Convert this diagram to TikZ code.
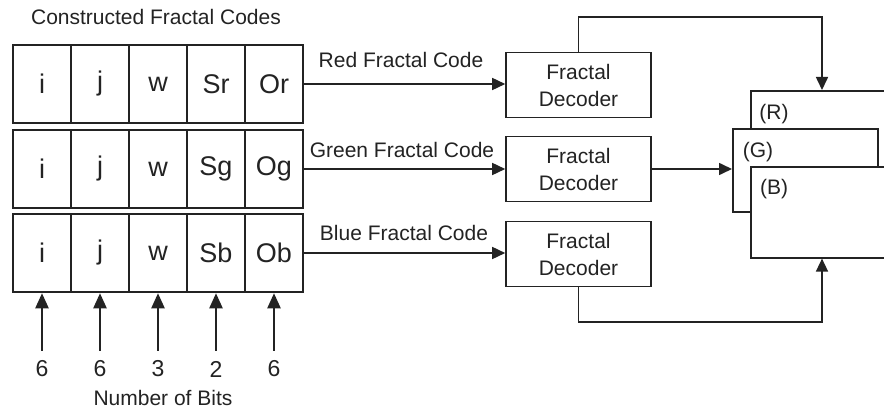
\documentclass[tikz,border=0pt]{standalone}
\usepackage{fontspec}
\setmainfont{Liberation Sans}
\usetikzlibrary{arrows.meta}
\definecolor{ink}{RGB}{35,35,35}
\begin{document}
\begin{tikzpicture}[x=1pt,y=-1pt,
  every node/.style={text=ink},
  cell/.style={draw=ink, line width=2.5pt, minimum width=58pt, minimum height=78pt, inner sep=0pt, font=\fontsize{27}{32}\selectfont},
  txt/.style={font=\fontsize{21}{25}\selectfont, anchor=base, inner sep=0pt},
  num/.style={font=\fontsize{23}{27}\selectfont, inner sep=2pt},
  dec/.style={draw=ink, line width=1.6pt, minimum width=145pt, minimum height=65pt, align=center, font=\fontsize{21}{27}\selectfont, inner sep=0pt},
  frame/.style={draw=ink, line width=1.6pt, fill=white, anchor=north west, inner sep=0pt},
  arr/.style={draw=ink, line width=1.6pt, -{Triangle[length=13pt,width=12pt]}},
  bitarr/.style={draw=ink, line width=2.2pt, shorten <=8pt, -{Triangle[length=15pt,width=13pt]}}
]
\useasboundingbox (0,0) rectangle (884,412);
\fill[white] (0,0) rectangle (884,412);

% title
\node[txt] (title) at (156,25) {Constructed Fractal Codes};

% code rows
\node[cell] (r1c1) at (42,84) {i};
\node[cell] (r1c2) at (100,84) {j};
\node[cell] (r1c3) at (158,84) {w};
\node[cell] (r1c4) at (216,84) {Sr};
\node[cell] (r1c5) at (274,84) {Or};

\node[cell] (r2c1) at (42,169) {i};
\node[cell] (r2c2) at (100,169) {j};
\node[cell] (r2c3) at (158,169) {w};
\node[cell] (r2c4) at (216,169) {Sg};
\node[cell] (r2c5) at (274,169) {Og};

\node[cell] (r3c1) at (42,253) {i};
\node[cell] (r3c2) at (100,253) {j};
\node[cell] (r3c3) at (158,253) {w};
\node[cell] (r3c4) at (216,253) {Sb};
\node[cell] (r3c5) at (274,253) {Ob};

% bit numbers
\node[num] (n1) at (42,369) {6};
\node[num] (n2) at (100,369) {6};
\node[num] (n3) at (158,369) {3};
\node[num] (n4) at (216,369) {2};
\node[num] (n5) at (274,369) {6};
\foreach \i in {1,...,5} {\draw[bitarr] (n\i.north) -- (r3c\i.south);}
\node[txt] (bits) at (163,405) {Number of Bits};

% decoders
\node[dec] (dec1) at (578.5,85) {Fractal\\Decoder};
\node[dec] (dec2) at (578.5,169) {Fractal\\Decoder};
\node[dec] (dec3) at (578.5,254) {Fractal\\Decoder};

\draw[arr] (r1c5.east) -- (r1c5.east -| dec1.west);
\draw[arr] (r2c5.east) -- (r2c5.east -| dec2.west);
\draw[arr] (r3c5.east) -- (r3c5.east -| dec3.west);
\node[txt] (lr) at (401,68) {Red Fractal Code};
\node[txt] (lg) at (402,157) {Green Fractal Code};
\node[txt] (lb) at (404,240) {Blue Fractal Code};

% image frames
\begin{scope}
\clip (0,0) rectangle (884,412);
\node[frame, minimum width=160pt, minimum height=160pt] (fR) at (750,90) {};
\node[frame, minimum width=145pt, minimum height=83pt] (fG) at (732,128) {};
\node[frame, minimum width=160pt, minimum height=91pt] (fB) at (750,166) {};
\end{scope}
\node[txt] (tR) at (774,120) {(R)};
\node[txt] (tG) at (758,157) {(G)};
\node[txt] (tB) at (774,194) {(B)};

\coordinate (topc) at (822,17);
\coordinate (botc) at (822,322);
\draw[arr] (dec1.north) |- (topc) -- (topc |- fR.north);
\draw[arr] (dec2.east) -- (dec2.east -| fG.west);
\draw[arr] (dec3.south) |- (botc) -- (botc |- fB.south);
\end{tikzpicture}
\end{document}
